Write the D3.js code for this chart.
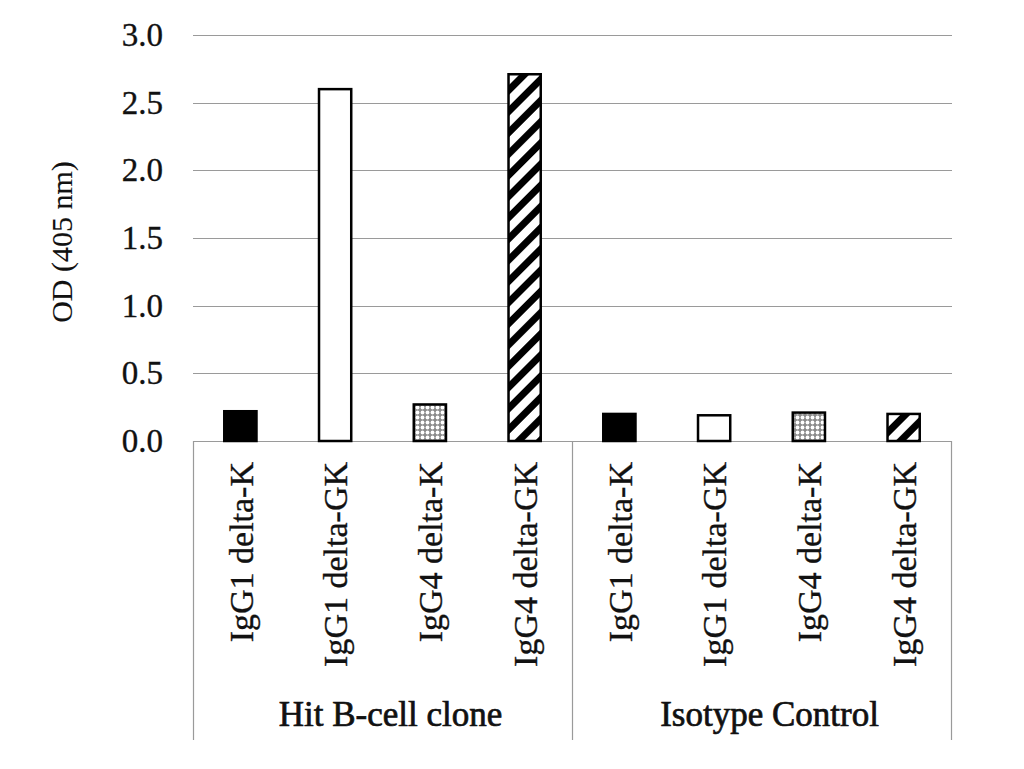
<!DOCTYPE html>
<html><head><meta charset="utf-8">
<script src="https://cdn.jsdelivr.net/npm/d3@7"></script>
<style>body{margin:0;background:#fff}svg{display:block}text{font-family:"Liberation Serif","Times New Roman",serif;fill:#111;stroke:#111;stroke-width:0.35px}</style>
</head><body>
<svg id="c" width="1024" height="769"></svg>
<script>
const groups = ["Hit B-cell clone", "Isotype Control"];
const categories = ["IgG1 delta-K", "IgG1 delta-GK", "IgG4 delta-K", "IgG4 delta-GK"];
const hitValues = [0.22, 2.60, 0.27, 2.71];
const isoValues = [0.20, 0.19, 0.21, 0.20];
const yTicks = [0, 0.5, 1.0, 1.5, 2.0, 2.5, 3.0];
const fills = ["solid", "white", "dots", "hatch"];

const data = [];
groups.forEach((g, gi) => {
  const vals = gi === 0 ? hitValues : isoValues;
  categories.forEach((c, ci) => data.push({key: g + "|" + c, group: g, cat: c, value: vals[ci], fill: fills[ci]}));
});

const svg = d3.select("#c");
const plotL = 193, plotR = 951, plotT = 35, plotB = 441;
const x = d3.scaleBand().domain(data.map(d => d.key)).range([plotL, plotR]).paddingInner(0.66).paddingOuter(0.33);
const xg = d3.scaleBand().domain(groups).range([plotL, plotR]);
const y = d3.scaleLinear().domain([0, 3]).range([plotB, plotT]);

const defs = svg.append("defs");
const hp = defs.append("pattern").attr("id", "hatch").attr("patternUnits", "userSpaceOnUse")
  .attr("width", 15).attr("height", 15).attr("patternTransform", "rotate(45)");
hp.append("rect").attr("width", 15).attr("height", 15).attr("fill", "#fff");
hp.append("rect").attr("x", 0).attr("y", 0).attr("width", 7).attr("height", 15).attr("fill", "#000");
const dp = defs.append("pattern").attr("id", "dots").attr("patternUnits", "userSpaceOnUse")
  .attr("width", 5).attr("height", 5);
dp.append("rect").attr("width", 5).attr("height", 5).attr("fill", "#8a8a8a");
dp.append("circle").attr("cx", 2.5).attr("cy", 2.5).attr("r", 1.9).attr("fill", "#fff");

// gridlines
svg.append("g").selectAll("line").data(yTicks).join("line")
  .attr("x1", plotL).attr("x2", plotR + 1).attr("y1", d => Math.round(y(d)) + 0.5).attr("y2", d => Math.round(y(d)) + 0.5)
  .attr("stroke", "#9a9a9a").attr("stroke-width", 1.2);

// y axis labels
const yAxis = d3.axisLeft(y).tickValues(yTicks).tickFormat(d3.format(".1f")).tickSize(0).tickPadding(0);
const ya = svg.append("g").attr("transform", "translate(163,0)").call(yAxis);
ya.select(".domain").remove();
ya.selectAll("text").attr("font-size", 33).attr("font-family", "Liberation Serif").attr("fill", "#111");

// bars
svg.append("g").selectAll("rect").data(data).join("rect")
  .attr("x", d => x(d.key)).attr("width", x.bandwidth())
  .attr("y", d => y(d.value)).attr("height", d => y(0) - y(d.value))
  .attr("fill", d => d.fill === "solid" ? "#000" : d.fill === "white" ? "#fff" : "url(#" + d.fill + ")")
  .attr("stroke", "#000").attr("stroke-width", 2.5);

// category box lines
const boxBottom = 740;
const vx = [plotL, xg(groups[1]), plotR];
svg.append("g").selectAll("line").data(vx).join("line")
  .attr("x1", d => d + 0.5).attr("x2", d => d + 0.5).attr("y1", plotB).attr("y2", boxBottom)
  .attr("stroke", "#9a9a9a").attr("stroke-width", 1.2);

// category labels
svg.append("g").selectAll("text").data(data).join("text")
  .attr("transform", d => `translate(${x(d.key) + x.bandwidth() / 2},462) rotate(-90)`)
  .attr("text-anchor", "end").attr("dy", "0.36em").attr("font-size", 34)
  .text(d => d.cat);

// group labels
svg.append("g").selectAll("text").data(groups).join("text")
  .attr("x", d => xg(d) + xg.bandwidth() / 2 + 8).attr("y", 726)
  .attr("text-anchor", "middle").attr("font-size", 35)
  .style("stroke-width", "0.7px")
  .text(d => d);

// y title
svg.append("text").attr("transform", "translate(72,242) rotate(-90)")
  .attr("text-anchor", "middle").attr("font-size", 30).style("stroke-width", "0.1px").text("OD (405 nm)");
</script>
</body></html>
